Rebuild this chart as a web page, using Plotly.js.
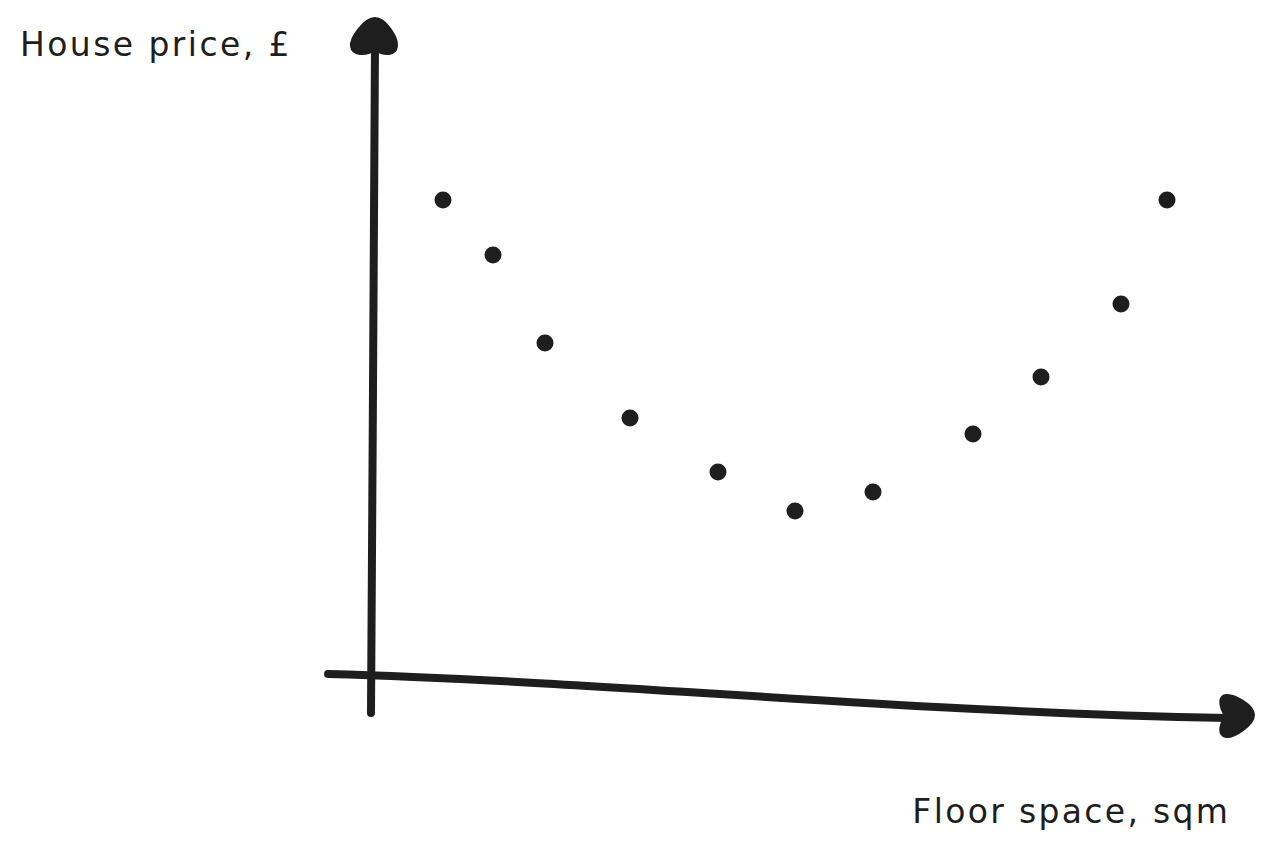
<!DOCTYPE html>
<html>
<head>
<meta charset="utf-8">
<script src="https://cdn.plot.ly/plotly-3.0.1.min.js"></script>
<style>html,body{margin:0;padding:0;background:#fff;}#chart{width:1267px;height:858px;}</style>
</head>
<body>
<div id="chart"></div>
<script>
// Data (floor space in sqm, house price in £)
const floorSpace = [14, 24, 34.4, 51.4, 69, 84.4, 100, 120, 133.6, 149.6, 158.8];
const housePrice = [475000, 420000, 332000, 257000, 203000, 164000, 183000, 241000, 298000, 371000, 475000];
const yLabel = "House price, £";
const xLabel = "Floor space, sqm";

const W = 1267, H = 858;
const ink = "#1e1e1e";
// pixel -> paper helpers for the hand-drawn decorations
const px = v => (v / W).toFixed(5);
const py = v => (1 - v / H).toFixed(5);
function path(cmds) {
  return cmds.map(c => {
    if (typeof c === "string") return c;
    return px(c[0]) + "," + py(c[1]);
  }).join(" ");
}
const yAxisPath = path(["M", [371, 713], "C", [373, 500], [373, 220], [375, 45]]);
const xAxisPath = path(["M", [328, 674], "C", [600, 681], [900, 712], [1228, 718]]);
const yArrow = path(["M", [375, 18], "C", [386, 18], [398, 38], [397, 46], "C", [396, 56], [384, 56], [375, 50],
  "C", [366, 56], [352, 56], [351, 46], "C", [350, 38], [364, 18], [375, 18], "Z"]);
const xArrow = path(["M", [1254, 715], "C", [1254, 725], [1234, 738], [1226, 737], "C", [1218, 736], [1219, 726], [1225, 716],
  "C", [1219, 706], [1218, 696], [1226, 695], "C", [1234, 694], [1254, 705], [1254, 715], "Z"]);

const trace = {
  x: floorSpace, y: housePrice, type: "scatter", mode: "markers",
  marker: { size: 17, color: ink }, hoverinfo: "skip", showlegend: false
};

const font = { family: "DejaVu Sans, sans-serif", size: 33, color: ink };
const layout = {
  width: W, height: H,
  margin: { l: 0, r: 0, t: 0, b: 0, pad: 0 },
  paper_bgcolor: "#ffffff", plot_bgcolor: "#ffffff",
  xaxis: { range: [-74.6, 178.8], visible: false, fixedrange: true },
  yaxis: { range: [-183000, 675000], visible: false, fixedrange: true },
  shapes: [
    { type: "path", xref: "paper", yref: "paper", path: yAxisPath, line: { color: ink, width: 8 }, layer: "below" },
    { type: "path", xref: "paper", yref: "paper", path: xAxisPath, line: { color: ink, width: 8 }, layer: "below" },
    { type: "path", xref: "paper", yref: "paper", path: yArrow, line: { color: ink, width: 2 }, fillcolor: ink },
    { type: "path", xref: "paper", yref: "paper", path: xArrow, line: { color: ink, width: 2 }, fillcolor: ink }
  ],
  annotations: [
    { text: yLabel, xref: "paper", yref: "paper", x: 156 / W, y: 1 - 44 / H, xanchor: "center", yanchor: "middle",
      showarrow: false, font: font },
    { text: xLabel, xref: "paper", yref: "paper", x: 1071 / W, y: 1 - 811 / H, xanchor: "center", yanchor: "middle",
      showarrow: false, font: font }
  ]
};

const targetWidths = [272, 318];
Plotly.newPlot("chart", [trace], layout, { staticPlot: true, displayModeBar: false }).then(() => {
  document.querySelectorAll(".shapelayer path").forEach(p => {
    p.style.strokeLinecap = "round";
    p.style.strokeLinejoin = "round";
  });
  document.querySelectorAll(".annotation-text").forEach((t, i) => {
    const w = t.getBBox().width;
    const n = t.textContent.length;
    const ls = Math.max(0, (targetWidths[i] - w) / n);
    t.style.letterSpacing = ls.toFixed(2) + "px";
  });
});
</script>
</body>
</html>
